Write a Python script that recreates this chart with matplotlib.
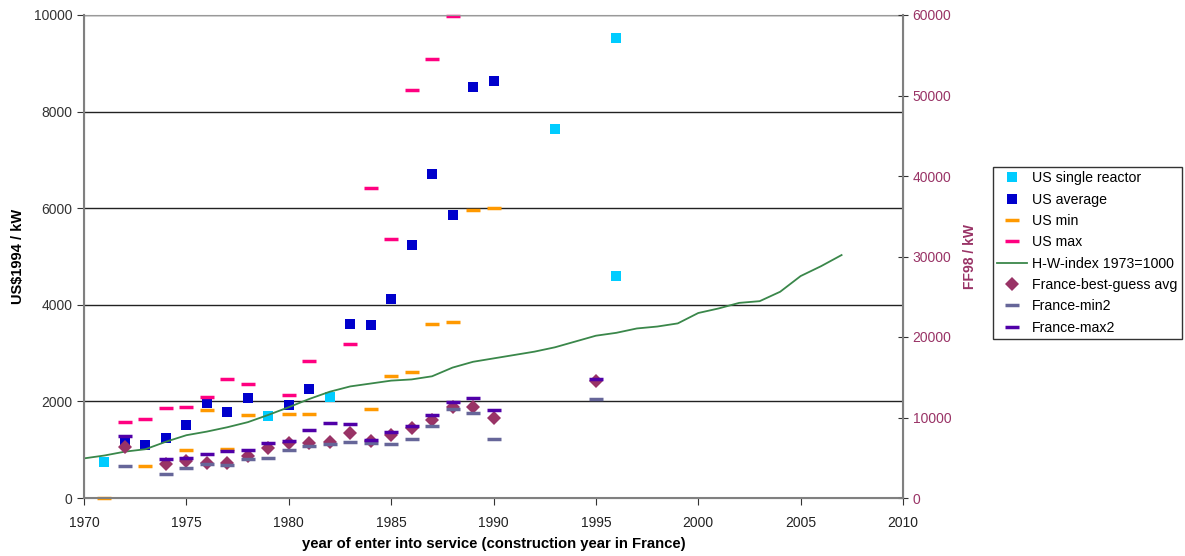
import matplotlib.pyplot as plt

plt.rcParams['font.family'] = ['Liberation Sans', 'DejaVu Sans']

# --- data (US$1994/kW on left axis, FF98/kW on right axis) ---
us_single_years = [1971, 1979, 1982, 1993, 1996, 1996]
us_single = [750, 1700, 2100, 7650, 9530, 4600]

us_avg_years = [1972, 1973, 1974, 1975, 1976, 1977, 1978, 1980, 1981, 1983,
                1984, 1985, 1986, 1987, 1988, 1989, 1990]
us_avg = [1200, 1100, 1250, 1510, 1960, 1780, 2070, 1925, 2257, 3600,
          3580, 4130, 5240, 6700, 5860, 8510, 8630]

us_min_years = [1971, 1973, 1975, 1976, 1977, 1978, 1980, 1981, 1984, 1985,
                1986, 1987, 1988, 1989, 1990]
us_min = [0, 665, 1000, 1830, 1015, 1720, 1740, 1740, 1840, 2520,
          2600, 3610, 3650, 5960, 6000]

us_max_years = [1972, 1973, 1974, 1975, 1976, 1977, 1978, 1980, 1981, 1983,
                1984, 1985, 1986, 1987, 1988]
us_max = [1570, 1640, 1870, 1880, 2090, 2470, 2355, 2130, 2830, 3180,
          6420, 5370, 8440, 9090, 9970]

hw_years = list(range(1970, 2008))
hw_index = [820, 880, 960, 1010, 1165, 1300, 1375, 1465, 1570, 1720,
            1880, 2050, 2200, 2310, 2370, 2430, 2455, 2520, 2700, 2820,
            2890, 2960, 3030, 3120, 3240, 3360, 3420, 3510, 3550, 3615,
            3830, 3925, 4040, 4075, 4270, 4595, 4800, 5030]

fr_years = [1972, 1974, 1975, 1976, 1977, 1978, 1979, 1980, 1981, 1982,
            1983, 1984, 1985, 1986, 1987, 1988, 1989, 1990, 1995]
fr_avg = [6360, 4200, 4620, 4320, 4380, 5220, 6270, 6840, 6840, 6960,
          8070, 7020, 7860, 8700, 9720, 11340, 11340, 9960, 14580]
fr_min2 = [3960, 2940, 3750, 4170, 4080, 4800, 5010, 5970, 6450, 6660,
           6990, 6780, 6660, 7290, 8940, 11010, 10500, 7290, 12300]
fr_max2 = [7740, 4890, 4920, 5430, 5850, 5940, 6780, 7080, 8400, 9360,
           9150, 7200, 8220, 8940, 10260, 11910, 12450, 10890, 14820]

# --- plotting ---
fig = plt.figure(figsize=(11.85, 5.56), dpi=100)
ax = fig.add_axes([84/1185, 1 - 498/556, (903 - 84)/1185, (498 - 15)/556])
ax2 = ax.twinx()

ax.grid(axis='y', color='#222222', lw=1)
ax.set_axisbelow(True)

h1, = ax.plot(us_single_years, us_single, 's', color='#00CCFF', ms=7, mew=0,
              label='US single reactor', clip_on=False)
h2, = ax.plot(us_avg_years, us_avg, 's', color='#0000CC', ms=7.5, mew=0,
              label='US average', clip_on=False)
h3, = ax.plot(us_min_years, us_min, '_', color='#FF9900', ms=10, mew=2.5,
              label='US min', clip_on=False)
h4, = ax.plot(us_max_years, us_max, '_', color='#FF0080', ms=10, mew=2.5,
              label='US max', clip_on=False)
h5, = ax.plot(hw_years, hw_index, '-', color='#3A874A', lw=1.3,
              label='H-W-index 1973=1000')

h6, = ax2.plot(fr_years, fr_avg, 'D', color='#993366', ms=7, mew=0,
               label='France-best-guess avg')
h7, = ax2.plot(fr_years, fr_min2, '_', color='#666699', ms=10, mew=2.5,
               label='France-min2')
h8, = ax2.plot(fr_years, fr_max2, '_', color='#5000A8', ms=10, mew=2.5,
               label='France-max2')

ax.set_xlim(1970, 2010)
ax.set_ylim(0, 10000)
ax2.set_ylim(0, 60000)
ax.set_xticks(range(1970, 2011, 5))
ax.set_yticks(range(0, 10001, 2000))
ax2.set_yticks(range(0, 60001, 10000))

for s in ['left', 'bottom', 'right']:
    ax.spines[s].set_color('#808080')
    ax2.spines[s].set_color('#808080')
ax.spines['top'].set_color('#999999')
ax2.spines['top'].set_visible(False)
ax.spines['left'].set_linewidth(1.5)
ax.spines['bottom'].set_linewidth(1.5)
ax2.spines['right'].set_linewidth(1.5)

ax.tick_params(axis='x', direction='out', length=5, color='#333333',
               labelsize=10, labelcolor='#222222', pad=8)
ax.tick_params(axis='y', direction='out', length=5, color='#333333',
               labelsize=10, labelcolor='#333333')
ax2.tick_params(axis='y', direction='inout', length=7, color='#333333',
                labelsize=10, labelcolor='#993366')

ax.set_xlabel('year of enter into service (construction year in France)',
              fontsize=10.7, fontweight='bold', labelpad=5)
ax.set_ylabel('US$1994 / kW', fontsize=10.5, fontweight='bold', labelpad=6)
ax2.set_ylabel('FF98 / kW', fontsize=10, fontweight='bold', color='#993366',
               labelpad=8)

handles = [h1, h2, h3, h4, h5, h6, h7, h8]
leg = fig.legend(handles, [h.get_label() for h in handles], loc='upper left',
                 bbox_to_anchor=(993/1185, 1 - 167/556), fontsize=10.2,
                 frameon=True, fancybox=False, edgecolor='black',
                 handlelength=2.1, handletextpad=0.35, labelspacing=0.52,
                 borderpad=0.3, borderaxespad=0)
leg.get_frame().set_linewidth(1)

plt.savefig('out.png', dpi=100)
